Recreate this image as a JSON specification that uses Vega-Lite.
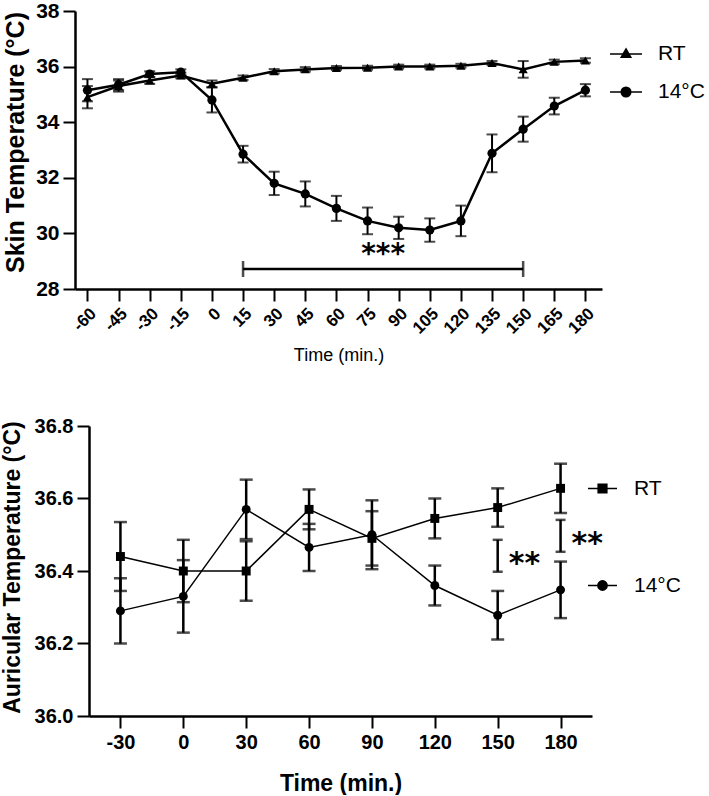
{
  "$schema": "https://vega.github.io/schema/vega-lite/v6.json",
  "padding": {"left": 1, "top": 0, "right": 0, "bottom": 0},
  "spacing": 51,
  "config": {
    "view": {"stroke": null},
    "font": "Liberation Sans",
    "axis": {"domainColor": "black", "domainWidth": 2.5, "tickColor": "black", "tickWidth": 2, "tickSize": 12, "labelColor": "black", "labelFont": "Liberation Sans", "labelFontWeight": "bold", "labelFontSize": 20, "labelPadding": 4, "labelOverlap": false, "titleColor": "black", "titleFont": "Liberation Sans", "titleFontWeight": "bold", "titleFontSize": 21, "grid": false},
    "legend": {"labelFont": "Liberation Sans", "labelFontSize": 21, "labelColor": "black"}
  },
  "datasets": {
    "skin": [
      {"time": -60, "series": "RT", "mean": 34.9, "err": 0.4},
      {"time": -45, "series": "RT", "mean": 35.3, "err": 0.2},
      {"time": -30, "series": "RT", "mean": 35.5, "err": 0.12},
      {"time": -15, "series": "RT", "mean": 35.68, "err": 0.1},
      {"time": 0, "series": "RT", "mean": 35.38, "err": 0.12},
      {"time": 15, "series": "RT", "mean": 35.6, "err": 0.08},
      {"time": 30, "series": "RT", "mean": 35.83, "err": 0.08},
      {"time": 45, "series": "RT", "mean": 35.9, "err": 0.08},
      {"time": 60, "series": "RT", "mean": 35.95, "err": 0.07},
      {"time": 75, "series": "RT", "mean": 35.96, "err": 0.07},
      {"time": 90, "series": "RT", "mean": 36.0, "err": 0.07},
      {"time": 105, "series": "RT", "mean": 36.0, "err": 0.07},
      {"time": 120, "series": "RT", "mean": 36.03, "err": 0.07},
      {"time": 135, "series": "RT", "mean": 36.13, "err": 0.07},
      {"time": 150, "series": "RT", "mean": 35.9, "err": 0.3},
      {"time": 165, "series": "RT", "mean": 36.17, "err": 0.08},
      {"time": 180, "series": "RT", "mean": 36.22, "err": 0.08},
      {"time": -60, "series": "14°C", "mean": 35.15, "err": 0.4},
      {"time": -45, "series": "14°C", "mean": 35.35, "err": 0.2},
      {"time": -30, "series": "14°C", "mean": 35.73, "err": 0.1},
      {"time": -15, "series": "14°C", "mean": 35.8, "err": 0.1},
      {"time": 0, "series": "14°C", "mean": 34.8, "err": 0.45},
      {"time": 15, "series": "14°C", "mean": 32.85, "err": 0.3},
      {"time": 30, "series": "14°C", "mean": 31.8, "err": 0.42},
      {"time": 45, "series": "14°C", "mean": 31.42, "err": 0.45},
      {"time": 60, "series": "14°C", "mean": 30.9, "err": 0.45},
      {"time": 75, "series": "14°C", "mean": 30.45, "err": 0.48},
      {"time": 90, "series": "14°C", "mean": 30.2, "err": 0.4},
      {"time": 105, "series": "14°C", "mean": 30.12, "err": 0.42},
      {"time": 120, "series": "14°C", "mean": 30.45, "err": 0.55},
      {"time": 135, "series": "14°C", "mean": 32.88, "err": 0.68},
      {"time": 150, "series": "14°C", "mean": 33.75, "err": 0.45},
      {"time": 165, "series": "14°C", "mean": 34.58, "err": 0.3},
      {"time": 180, "series": "14°C", "mean": 35.15, "err": 0.22}
    ],
    "skinSig": [
      {"start": 15, "end": 150, "level": 28.72, "mid": 82.5, "label": "***"}
    ],
    "aur": [
      {"time": -30, "series": "RT", "mean": 36.44, "err": 0.095},
      {"time": 0, "series": "RT", "mean": 36.4, "err": 0.086},
      {"time": 30, "series": "RT", "mean": 36.4, "err": 0.082},
      {"time": 60, "series": "RT", "mean": 36.57, "err": 0.055},
      {"time": 90, "series": "RT", "mean": 36.49, "err": 0.075},
      {"time": 120, "series": "RT", "mean": 36.545, "err": 0.055},
      {"time": 150, "series": "RT", "mean": 36.575, "err": 0.053},
      {"time": 180, "series": "RT", "mean": 36.628, "err": 0.068},
      {"time": -30, "series": "14°C", "mean": 36.29, "err": 0.09},
      {"time": 0, "series": "14°C", "mean": 36.33, "err": 0.1},
      {"time": 30, "series": "14°C", "mean": 36.57, "err": 0.082},
      {"time": 60, "series": "14°C", "mean": 36.465, "err": 0.065},
      {"time": 90, "series": "14°C", "mean": 36.5, "err": 0.095},
      {"time": 120, "series": "14°C", "mean": 36.36, "err": 0.055},
      {"time": 150, "series": "14°C", "mean": 36.278, "err": 0.067},
      {"time": 180, "series": "14°C", "mean": 36.348, "err": 0.078}
    ],
    "aurSig": [
      {"time": 150, "lo": 36.398, "hi": 36.486, "label": "**"},
      {"time": 180, "lo": 36.453, "hi": 36.541, "label": "**"}
    ]
  },
  "vconcat": [
    {
      "width": 513,
      "height": 278,
      "data": {"name": "skin"},
      "encoding": {
        "x": {"field": "time", "type": "quantitative", "title": "Time (min.)",
          "scale": {"domain": [-66, 188], "range": [-14, 513], "nice": false, "zero": false},
          "axis": {"values": [-60, -45, -30, -15, 0, 15, 30, 45, 60, 75, 90, 105, 120, 135, 150, 165, 180], "labelExpr": "'' + datum.value", "labelAngle": -45, "labelFontSize": 17, "titleFontWeight": "normal", "titleFontSize": 18, "titlePadding": 10}},
        "y": {"field": "mean", "type": "quantitative", "title": "Skin Temperature (°C)",
          "scale": {"domain": [28, 38], "nice": false, "zero": false},
          "axis": {"values": [28, 30, 32, 34, 36, 38], "offset": 14, "labelFontSize": 21, "titleFontSize": 25, "titlePadding": 7, "titleY": 131}}
      },
      "layer": [
        {"mark": {"type": "line", "color": "black", "strokeWidth": 2.5},
          "encoding": {"detail": {"field": "series"}}},
        {"mark": {"type": "errorbar", "color": "black", "thickness": 2, "ticks": {"size": 11, "thickness": 2}},
          "encoding": {"yError": {"field": "err"}}},
        {"mark": {"type": "point", "filled": true, "color": "black", "size": 85, "opacity": 1},
          "encoding": {"shape": {"field": "series", "type": "nominal", "scale": {"domain": ["RT", "14°C"], "range": ["triangle-up", "circle"]}, "legend": null}}},
        {"mark": {"type": "point", "filled": true, "fill": "black", "stroke": "black", "strokeWidth": 2, "opacity": 1, "clip": true, "yOffset": 3000, "size": 1024},
          "encoding": {"shape": {"field": "series", "type": "nominal",
            "scale": {"domain": ["RT", "14°C"], "range": ["M-1,0H1M0,-0.32L0.3,0.2L-0.3,0.2Z", "M-1,0H1M0.3,0A0.3,0.3 0 1,1 -0.3,0A0.3,0.3 0 1,1 0.3,0Z"]},
            "legend": {"title": null, "orient": "none", "legendX": 520, "legendY": 26, "symbolSize": 1024, "labelOffset": 15, "rowPadding": 11, "labelFontSize": 21,
              "encode": {"symbols": {"update": {"stroke": {"value": "black"}, "strokeWidth": {"value": 2.5}, "fill": {"value": "black"}, "opacity": {"value": 1}}}}}}}},
        {"data": {"name": "skinSig"},
          "mark": {"type": "errorbar", "color": "black", "thickness": 2.5, "ticks": {"size": 16, "thickness": 2.5}},
          "encoding": {"x": {"field": "start", "type": "quantitative", "title": "Time (min.)"}, "x2": {"field": "end"}, "y": {"field": "level", "type": "quantitative", "title": "Skin Temperature (°C)"}}},
        {"data": {"name": "skinSig"},
          "mark": {"type": "text", "color": "black", "font": "DejaVu Sans", "fontSize": 28, "fontWeight": "bold", "baseline": "middle", "dy": -14},
          "encoding": {"x": {"field": "mid", "type": "quantitative", "title": "Time (min.)"}, "y": {"field": "level", "type": "quantitative", "title": "Skin Temperature (°C)"}, "text": {"field": "label"}}}
      ],
      "resolve": {"scale": {"shape": "independent"}}
    },
    {
      "width": 503,
      "height": 290,
      "data": {"name": "aur"},
      "encoding": {
        "x": {"field": "time", "type": "quantitative", "title": "Time (min.)",
          "scale": {"domain": [-45, 195], "nice": false, "zero": false},
          "axis": {"values": [-30, 0, 30, 60, 90, 120, 150, 180], "labelExpr": "'' + datum.value", "labelAngle": 0, "titleFontSize": 23, "titlePadding": 20}},
        "y": {"field": "mean", "type": "quantitative", "title": "Auricular Temperature (°C)",
          "scale": {"domain": [36.0, 36.8], "nice": false, "zero": false},
          "axis": {"values": [36.0, 36.2, 36.4, 36.6, 36.8], "format": ".1f", "titleFontSize": 23, "titlePadding": 10, "titleY": 141}}
      },
      "layer": [
        {"mark": {"type": "line", "color": "black", "strokeWidth": 1.5},
          "encoding": {"detail": {"field": "series"}}},
        {"mark": {"type": "errorbar", "color": "black", "thickness": 2.5, "ticks": {"size": 13, "thickness": 2.5}},
          "encoding": {"yError": {"field": "err"}}},
        {"mark": {"type": "point", "filled": true, "color": "black", "size": 80, "opacity": 1},
          "encoding": {"shape": {"field": "series", "type": "nominal", "scale": {"domain": ["RT", "14°C"], "range": ["square", "circle"]}, "legend": null}}},
        {"mark": {"type": "point", "filled": true, "fill": "black", "stroke": "black", "strokeWidth": 1.5, "opacity": 1, "clip": true, "yOffset": 3000, "size": 841},
          "encoding": {"shape": {"field": "series", "type": "nominal",
            "scale": {"domain": ["RT", "14°C"], "range": ["M-1,0H1M-0.3,-0.3H0.3V0.3H-0.3Z", "M-1,0H1M0.32,0A0.32,0.32 0 1,1 -0.32,0A0.32,0.32 0 1,1 0.32,0Z"]},
            "legend": {"title": null, "orient": "none", "legendX": 498, "legendY": 47, "symbolSize": 841, "labelOffset": 16, "rowPadding": 71, "labelFontSize": 21,
              "encode": {"symbols": {"update": {"stroke": {"value": "black"}, "strokeWidth": {"value": 1.5}, "fill": {"value": "black"}, "opacity": {"value": 1}}}}}}}},
        {"data": {"name": "aurSig"},
          "mark": {"type": "errorbar", "color": "black", "thickness": 2.5, "ticks": {"size": 10, "thickness": 2.5}},
          "encoding": {"x": {"field": "time", "type": "quantitative", "title": "Time (min.)"}, "y": {"field": "lo", "type": "quantitative", "title": "Auricular Temperature (°C)"}, "y2": {"field": "hi"}}},
        {"data": {"name": "aurSig"},
          "mark": {"type": "text", "color": "black", "font": "DejaVu Sans", "fontSize": 30, "fontWeight": "bold", "baseline": "middle", "align": "left", "dx": 11, "dy": -8},
          "encoding": {"x": {"field": "time", "type": "quantitative", "title": "Time (min.)"}, "y": {"field": "lo", "type": "quantitative", "title": "Auricular Temperature (°C)"}, "text": {"field": "label"}}}
      ],
      "resolve": {"scale": {"shape": "independent"}}
    }
  ]
}
